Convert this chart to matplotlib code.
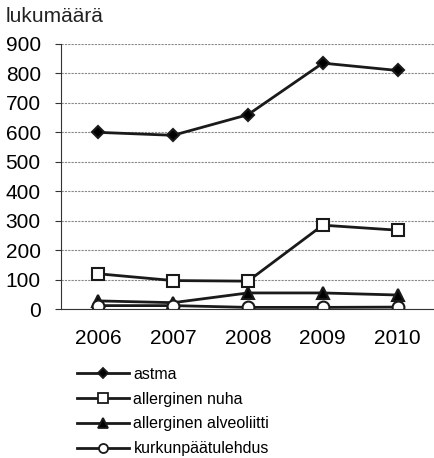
import matplotlib.pyplot as plt

years = ["2006", "2007", "2008", "2009", "2010"]
astma = [600, 590, 660, 835, 810]
nuha = [120, 97, 95, 285, 268]
alveoliitti = [28, 22, 55, 55, 48]
kurkunpaa = [12, 12, 6, 6, 7]

# name, values, marker, face colour, size on chart, size in legend
series = [
    ("astma", astma, "D", "black", 6.5, 5),
    ("allerginen nuha", nuha, "s", "white", 9, 6.5),
    ("allerginen alveoliitti", alveoliitti, "^", "black", 9, 7),
    ("kurkunpäätulehdus", kurkunpaa, "o", "white", 8.5, 6.5),
]

plt.rcParams['font.family'] = ['Liberation Sans', 'DejaVu Sans']

fig = plt.figure(figsize=(4.35, 4.58), dpi=100)
ax = fig.add_axes([0.140, 0.325, 0.86, 0.579])

x = [i + 0.5 for i in range(len(years))]
handles = []
for name, vals, mk, fc, ms, lms in series:
    ax.plot(x, vals, color="#1a1a1a", lw=2, marker=mk, markersize=ms,
            markerfacecolor=fc, markeredgecolor="#1a1a1a", markeredgewidth=1.5)
    h, = ax.plot([], [], color="#1a1a1a", lw=2, marker=mk,
                 markersize=lms, markerfacecolor=fc,
                 markeredgecolor="#1a1a1a", markeredgewidth=1.3)
    handles.append((h, name))

ax.set_xlim(0, 5)
ax.set_ylim(0, 900)
ax.set_yticks(range(0, 901, 100))
ax.set_xticks(x)
ax.set_xticklabels(years)
ax.tick_params(axis='x', length=0, labelsize=15, pad=14)
ax.tick_params(axis='y', length=4.5, labelsize=15, direction='out', pad=10,
               color="#333333")
ax.yaxis.grid(True, linestyle=(0, (2, 1)), color="#888888", lw=0.8)
ax.set_axisbelow(True)
for s in ["top", "right"]:
    ax.spines[s].set_visible(False)
ax.spines["left"].set_color("#333333")
ax.spines["bottom"].set_color("#333333")

fig.text(0.014, 0.951, "lukumäärä", fontsize=15, va="baseline", ha="left",
         color="#222222")

fig.legend([h for h, _ in handles], [n for _, n in handles],
           loc="upper left", bbox_to_anchor=(0.158, 0.217),
           frameon=False, fontsize=11.5, handlelength=3.25,
           handletextpad=0.3, labelspacing=0.62, borderpad=0)

fig.savefig("out.png", dpi=100)
